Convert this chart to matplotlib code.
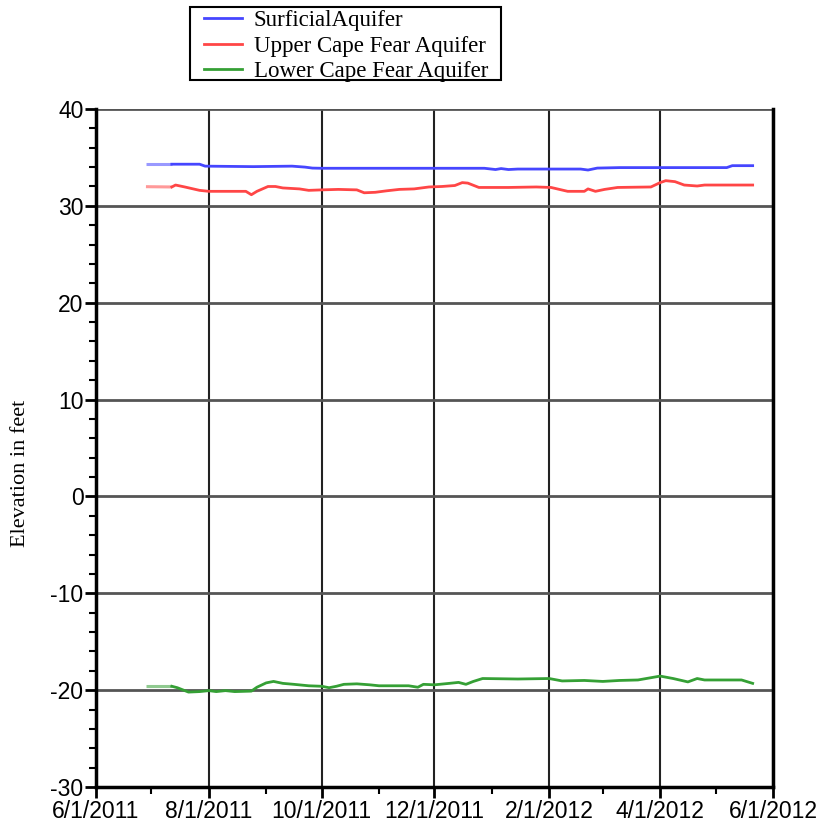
import datetime as dt

import matplotlib
matplotlib.use("Agg")
import matplotlib.dates as mdates
import matplotlib.pyplot as plt
from matplotlib.patches import Rectangle
from matplotlib.ticker import FuncFormatter, MultipleLocator

plt.rcParams["axes.unicode_minus"] = False

# Daily-average groundwater elevations (ft), read at change points
surficial_dates = ["2011-06-28", "2011-07-12", "2011-07-27", "2011-07-30", "2011-08-25",
                   "2011-09-15", "2011-09-22", "2011-09-26", "2011-10-01", "2011-12-28",
                   "2012-01-03", "2012-01-06", "2012-01-10", "2012-01-15", "2012-02-01",
                   "2012-02-18", "2012-02-22", "2012-02-27", "2012-03-10", "2012-05-07",
                   "2012-05-10", "2012-05-21"]
surficial_ft = [34.3, 34.3, 34.3, 34.1, 34.05,
                34.1, 34.0, 33.9, 33.88, 33.88,
                33.75, 33.85, 33.75, 33.8, 33.8,
                33.8, 33.7, 33.9, 33.95, 33.95,
                34.15, 34.15]

upper_dates = ["2011-06-28", "2011-07-12", "2011-07-14", "2011-07-19", "2011-07-27",
               "2011-08-01", "2011-08-21", "2011-08-24", "2011-08-27", "2011-09-02",
               "2011-09-06", "2011-09-10", "2011-09-19", "2011-09-24", "2011-10-01",
               "2011-10-10", "2011-10-20", "2011-10-24", "2011-10-30", "2011-11-05",
               "2011-11-12", "2011-11-20", "2011-11-28", "2011-12-05", "2011-12-12",
               "2011-12-16", "2011-12-19", "2011-12-25", "2012-01-10", "2012-01-25",
               "2012-02-02", "2012-02-11", "2012-02-20", "2012-02-22", "2012-02-26",
               "2012-03-02", "2012-03-09", "2012-03-27", "2012-04-01", "2012-04-04",
               "2012-04-09", "2012-04-14", "2012-04-21", "2012-04-25", "2012-05-21"]
upper_ft = [31.98, 31.95, 32.15, 31.95, 31.6,
            31.5, 31.5, 31.15, 31.5, 32.0,
            32.0, 31.85, 31.75, 31.6, 31.65,
            31.7, 31.65, 31.35, 31.4, 31.55,
            31.7, 31.75, 31.95, 32.0, 32.1,
            32.4, 32.35, 31.9, 31.9, 31.95,
            31.9, 31.5, 31.5, 31.75, 31.5,
            31.7, 31.9, 31.95, 32.4, 32.6,
            32.5, 32.15, 32.05, 32.15, 32.15]

lower_dates = ["2011-06-28", "2011-07-12", "2011-07-15", "2011-07-21", "2011-07-27",
               "2011-08-01", "2011-08-05", "2011-08-10", "2011-08-15", "2011-08-24",
               "2011-08-27", "2011-09-01", "2011-09-05", "2011-09-10", "2011-09-16",
               "2011-09-24", "2011-10-01", "2011-10-05", "2011-10-09", "2011-10-13",
               "2011-10-20", "2011-10-27", "2011-11-01", "2011-11-17", "2011-11-22",
               "2011-11-25", "2011-12-01", "2011-12-09", "2011-12-14", "2011-12-18",
               "2011-12-22", "2011-12-27", "2012-01-15", "2012-02-01", "2012-02-08",
               "2012-02-20", "2012-03-01", "2012-03-10", "2012-03-20", "2012-04-01",
               "2012-04-08", "2012-04-16", "2012-04-21", "2012-04-25", "2012-05-15",
               "2012-05-21"]
lower_ft = [-19.6, -19.6, -19.75, -20.2, -20.15,
            -20.05, -20.15, -20.05, -20.15, -20.1,
            -19.7, -19.25, -19.1, -19.3, -19.4,
            -19.55, -19.6, -19.75, -19.6, -19.4,
            -19.35, -19.45, -19.55, -19.55, -19.7,
            -19.4, -19.45, -19.3, -19.2, -19.4,
            -19.1, -18.8, -18.85, -18.8, -19.05,
            -19.0, -19.1, -19.0, -18.95, -18.55,
            -18.8, -19.15, -18.8, -18.95, -18.95,
            -19.3]

series = [
    ("SurficialAquifer", surficial_dates, surficial_ft, "#4646ff"),
    ("Upper Cape Fear Aquifer", upper_dates, upper_ft, "#ff4646"),
    ("Lower Cape Fear Aquifer", lower_dates, lower_ft, "#35a035"),
]

fig = plt.figure(figsize=(8.2, 8.26), dpi=100)
ax = fig.add_axes([96 / 820, 39 / 826, 677 / 820, 678 / 826])

handles = []
for name, dates, vals, color in series:
    d = [dt.datetime.strptime(s, "%Y-%m-%d") for s in dates]
    # first two weeks are provisional record, drawn faded
    ax.plot(d[:2], vals[:2], color=color, lw=2.2, alpha=0.55, solid_capstyle="butt")
    line, = ax.plot(d[1:], vals[1:], color=color, lw=2.0, label=name)
    handles.append(line)

ax.set_xlim(dt.datetime(2011, 6, 1), dt.datetime(2012, 6, 1))
ax.set_ylim(-30, 40)

ax.xaxis.set_major_locator(mdates.MonthLocator(bymonth=[2, 4, 6, 8, 10, 12]))
ax.xaxis.set_minor_locator(mdates.MonthLocator())
ax.xaxis.set_major_formatter(FuncFormatter(
    lambda x, pos: "{d.month}/{d.day}/{d.year}".format(d=mdates.num2date(x))))
ax.yaxis.set_major_locator(MultipleLocator(10))
ax.yaxis.set_minor_locator(MultipleLocator(2))

ax.grid(axis="x", which="major", color="#222222", lw=1.5)
ax.grid(axis="y", which="major", color="#555555", lw=2.0)
ax.set_axisbelow(True)

ax.spines["top"].set_visible(False)
for side in ("left", "bottom", "right"):
    ax.spines[side].set_linewidth(2.5)
    ax.spines[side].set_color("black")

ax.tick_params(which="major", direction="out", length=8, width=2,
               labelsize=16.5, pad=1)
ax.tick_params(which="minor", direction="out", length=5, width=1.5)
for lab in ax.get_xticklabels() + ax.get_yticklabels():
    lab.set_family("Liberation Sans")

ax.set_ylabel("Elevation in feet", family="Liberation Serif", fontsize=16)
ax.yaxis.set_label_coords(-0.097, 0.462)

# legend sits above the plot in its own box
fig.legend(handles=handles, loc="upper left",
           bbox_to_anchor=(204 / 820, 1 - 10 / 826), borderaxespad=0,
           prop={"family": "Liberation Serif", "size": 16.5},
           frameon=False, handlelength=1.66, handletextpad=0.52,
           labelspacing=0.2, borderpad=0)
fig.add_artist(Rectangle((190 / 820, 1 - 80 / 826), 311 / 820, 73 / 826,
                         transform=fig.transFigure, fill=False,
                         edgecolor="black", linewidth=1.5))

fig.savefig("out.png", dpi=100)
